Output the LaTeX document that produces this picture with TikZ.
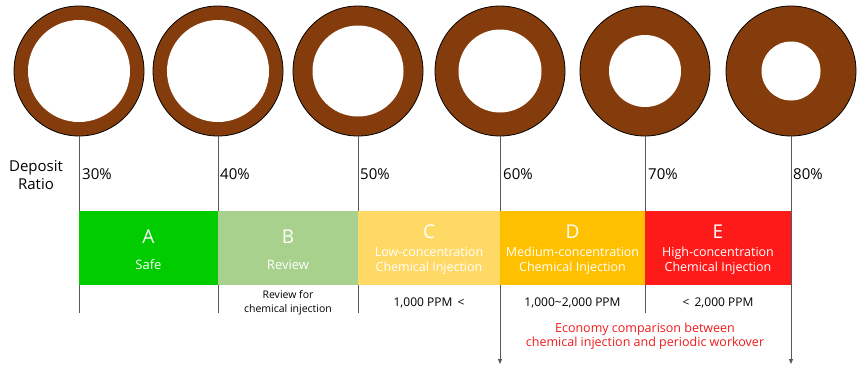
\documentclass[tikz,border=0pt]{standalone}
\usepackage{fontspec}
\setmainfont{Open Sans}
\usetikzlibrary{arrows.meta}
\definecolor{deposit}{HTML}{843C0C}
\definecolor{zA}{HTML}{00CC00}
\definecolor{zB}{HTML}{A9D18E}
\definecolor{zC}{HTML}{FFD966}
\definecolor{zD}{HTML}{FFC000}
\definecolor{zE}{HTML}{FF1A1A}
\definecolor{guidegray}{HTML}{595959}
\definecolor{econred}{HTML}{F01A1A}
\begin{document}
\begin{tikzpicture}[x=1pt,y=-1pt,
  ring/.style={circle, draw=black, line width=0.8pt, fill=deposit, minimum size=130pt, inner sep=0pt},
  bore/.style={circle, fill=white, draw=none, inner sep=0pt},
  guide/.style={draw=guidegray, line width=0.8pt},
  guidearrow/.style={guide, -{Triangle[length=5pt,width=4pt]}},
  zone/.style={rectangle, minimum height=74pt, inner sep=0pt, draw=none},
  pct/.style={anchor=west, inner sep=0pt, font=\fontsize{15}{18}\selectfont},
  letter/.style={text=white, inner sep=0pt, font=\fontsize{19}{22}\selectfont},
  zonetext/.style={text=white, inner sep=0pt, align=center, font=\fontsize{12.5}{15}\selectfont},
  note/.style={inner sep=0pt, align=center, font=\fontsize{12}{14}\selectfont},
  smallnote/.style={inner sep=0pt, align=center, font=\fontsize{10.5}{14}\selectfont}]
\useasboundingbox (0,0) rectangle (861,370);
% rings
\node[ring] (r1) at (79,71) {};
\node[ring] (r2) at (218,71) {};
\node[ring] (r3) at (358,71) {};
\node[ring] (r4) at (500,71) {};
\node[ring] (r5) at (645,71) {};
\node[ring] (r6) at (791,71) {};
\node[bore, minimum size=102pt] (b1) at (r1.center) {};
\node[bore, minimum size=102pt] (b2) at (r2.center) {};
\node[bore, minimum size=91pt] (b3) at (r3.center) {};
\node[bore, minimum size=83pt] (b4) at (r4.center) {};
\node[bore, minimum size=72pt] (b5) at (r5.center) {};
\node[bore, minimum size=59pt] (b6) at (r6.center) {};
% guide ends
\coordinate (e1) at (79,313);
\coordinate (e2) at (218,313);
\coordinate (e3) at (358,313);
\coordinate (e4) at (500,364);
\coordinate (e5) at (645,313);
\coordinate (e6) at (791,364);
\draw[guide] (r1.south) -- (e1);
\draw[guide] (r2.south) -- (e2);
\draw[guide] (r3.south) -- (e3);
\draw[guidearrow] (r4.south) -- (e4);
\draw[guide] (r5.south) -- (e5);
\draw[guidearrow] (r6.south) -- (e6);
% labels
\node[inner sep=0pt, align=center, font=\fontsize{15}{18}\selectfont] (dr) at (36,175) {Deposit\\Ratio};
\node[pct] (p1) at (82,174) {30\%};
\node[pct] (p2) at (220,174) {40\%};
\node[pct] (p3) at (360,174) {50\%};
\node[pct] (p4) at (503,174) {60\%};
\node[pct] (p5) at (648,174) {70\%};
\node[pct] (p6) at (793,174) {80\%};
% zones
\node[zone, fill=zA, minimum width=139pt] (zoneA) at (148.5,248) {};
\node[zone, fill=zB, minimum width=140pt] (zoneB) at (288,248) {};
\node[zone, fill=zC, minimum width=142pt] (zoneC) at (429,248) {};
\node[zone, fill=zD, minimum width=145pt] (zoneD) at (572.5,248) {};
\node[zone, fill=zE, minimum width=146pt] (zoneE) at (718,248) {};
\node[letter] (lA) at (148.5,237) {A};
\node[zonetext, font=\fontsize{13}{15}\selectfont] (tA) at (148.5,265) {Safe};
\node[letter] (lB) at (288,237) {B};
\node[zonetext, font=\fontsize{13}{15}\selectfont] (tB) at (288,265) {Review};
\node[letter] (lC) at (429,232) {C};
\node[zonetext] (tC) at (429,261) {Low-concentration\\Chemical Injection};
\node[letter] (lD) at (572.5,232) {D};
\node[zonetext] (tD) at (572.5,261) {Medium-concentration\\Chemical Injection};
\node[letter] (lE) at (718,232) {E};
\node[zonetext] (tE) at (718,261) {High-concentration\\Chemical Injection};
% notes
\node[smallnote] (nB) at (288,303) {Review for\\chemical injection};
\node[note] (nC) at (429,303) {1,000 PPM \,<};
\node[note] (nD) at (572.5,303) {1,000\textasciitilde 2,000 PPM};
\node[note] (nE) at (718,303) {< \,2,000 PPM};
\node[note, text=econred, font=\fontsize{12.5}{14.5}\selectfont] (econ) at (645,336) {Economy comparison between\\chemical injection and periodic workover};
\end{tikzpicture}
\end{document}
